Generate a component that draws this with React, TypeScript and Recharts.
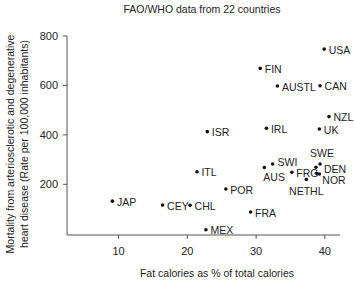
import { ScatterChart, Scatter, XAxis, YAxis, Label } from 'recharts';

// country codes, fat calories (% of total) and mortality (per 100,000)
const countries = [
  'JAP', 'CEY', 'CHL', 'MEX', 'ITL', 'POR', 'FRA', 'AUS', 'SWI', 'FRG', 'NETHL',
  'SWE', 'DEN', 'NOR', '', 'ISR', 'IRL', 'UK', 'NZL', 'CAN', 'AUSTL', 'FIN', 'USA',
];
const fatCalories = [
  9.1, 16.4, 20.4, 22.7, 21.4, 25.6, 29.2, 31.2, 32.4, 35.2, 37.3,
  39.3, 38.7, 39.2, 38.8, 22.9, 31.5, 39.2, 40.6, 39.3, 33.1, 30.6, 39.9,
];
const mortality = [
  132, 116, 115, 16, 251, 181, 88, 268, 282, 249, 220,
  282, 269, 242, 245, 413, 427, 424, 474, 599, 598, 669, 747,
];
const xTicks = [10, 20, 30, 40];
const yTicks = [200, 400, 600, 800];

const data = countries.map((name, i) => ({
  name,
  fat: fatCalories[i],
  mort: mortality[i],
}));

const FONT = '"Liberation Sans", Arial, sans-serif';
const TEXT = '#222';
const AXIS = '#555';

// where each label sits relative to its dot
type Place = { dx: number; dy: number; anchor: 'start' | 'middle' };
const defaultPlace: Place = { dx: 4.5, dy: 1, anchor: 'start' };
const labelPlace: Record<string, Place> = {
  AUS: { dx: -1, dy: 10, anchor: 'start' },
  SWI: { dx: 5, dy: -1.5, anchor: 'start' },
  SWE: { dx: 2, dy: -11, anchor: 'middle' },
  DEN: { dx: 8, dy: 2, anchor: 'start' },
  NOR: { dx: 3, dy: 6, anchor: 'start' },
  NETHL: { dx: 0, dy: 12, anchor: 'middle' },
};

const renderPoint = (props: any) => {
  const { cx, cy, payload } = props;
  const p = labelPlace[payload.name] ?? defaultPlace;
  return (
    <g>
      <circle cx={cx} cy={cy} r={1.8} fill="#111" />
      {payload.name && (
        <text
          x={cx + p.dx}
          y={cy + p.dy}
          dy="0.35em"
          textAnchor={p.anchor}
          fontSize={10.5}
          fontFamily={FONT}
          fill={TEXT}
        >
          {payload.name}
        </text>
      )}
    </g>
  );
};

export default function App() {
  return (
    <div style={{ position: 'absolute', left: 0, top: 0, width: 354, height: 282, background: '#fff' }}>
      <div
        style={{
          position: 'absolute',
          top: 3,
          left: 0,
          width: 404,
          textAlign: 'center',
          fontFamily: FONT,
          fontSize: 10.5,
          lineHeight: '13px',
          color: TEXT,
        }}
      >
        FAO/WHO data from 22 countries
      </div>
      <ScatterChart width={354} height={282} margin={{ top: 36, right: 14, left: 30, bottom: 17 }}>
        <XAxis
          type="number"
          dataKey="fat"
          domain={[2.5, 42.2]}
          ticks={xTicks}
          height={30}
          tickSize={4}
          tickMargin={8}
          axisLine={{ stroke: AXIS }}
          tickLine={{ stroke: AXIS }}
          tick={{ fill: TEXT, fontSize: 11, fontFamily: FONT }}
        >
          <Label
            content={() => (
              <text x={217} y={273} dy="0.35em" textAnchor="middle" fontSize={10.5} fontFamily={FONT} fill={TEXT}>
                Fat calories as % of total calories
              </text>
            )}
          />
        </XAxis>
        <YAxis
          type="number"
          dataKey="mort"
          domain={[-5, 800]}
          ticks={yTicks}
          width={37}
          tickSize={4}
          tickMargin={5}
          axisLine={{ stroke: AXIS }}
          tickLine={{ stroke: AXIS }}
          tick={{ fill: TEXT, fontSize: 11, fontFamily: FONT }}
        >
          <Label
            content={() => (
              <g fontSize={10.5} fontFamily={FONT} fill={TEXT}>
                <text x={10} y={144} dy="0.35em" textAnchor="middle" transform="rotate(-90 10 144)">
                  Mortality from arteriosclerotic and degenerative
                </text>
                <text x={24} y={144} dy="0.35em" textAnchor="middle" transform="rotate(-90 24 144)">
                  heart disease (Rate per 100,000 inhabitants)
                </text>
              </g>
            )}
          />
        </YAxis>
        <Scatter data={data} shape={renderPoint} isAnimationActive={false} />
      </ScatterChart>
    </div>
  );
}
